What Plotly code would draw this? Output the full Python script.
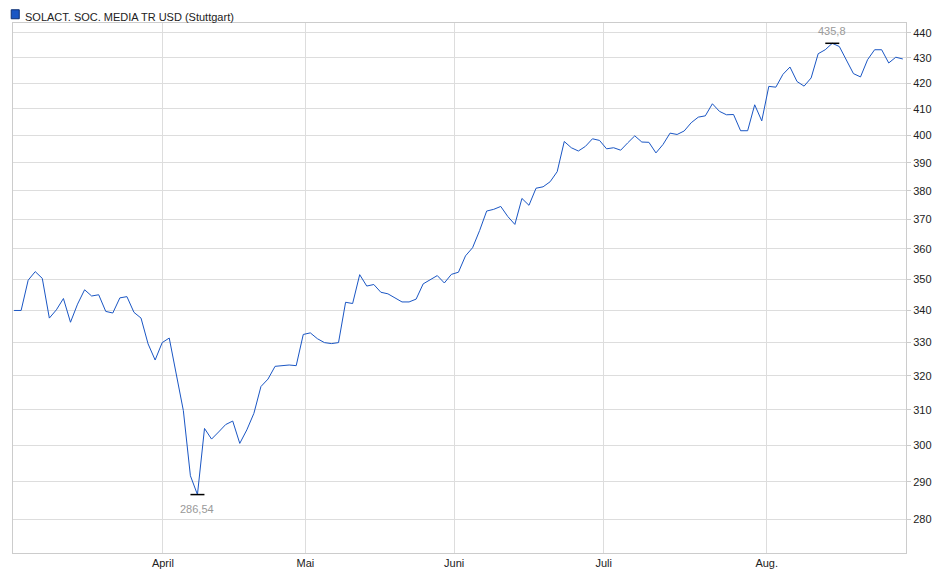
import plotly.graph_objects as go
import math

title = 'SOLACT. SOC. MEDIA TR USD (Stuttgart)'

# daily closes (trading days, evenly spaced)
values = [
    340, 340, 349.7, 352.5, 350.3, 337.6, 340.2, 343.8, 336.3, 342, 346.6, 344.6, 345,
    339.7, 339.2, 344, 344.4, 339.4, 337.6, 329.6, 324.7, 330, 331.4, 320.3, 309.8, 291.6,
    286.54, 304.7, 301.7, 303.7, 305.8, 306.8, 300.5, 304.3, 309, 316.8, 319, 322.8, 323,
    323.2, 323, 332.5, 333, 331.2, 330,
    329.7, 330, 342.6, 342.2, 351.5, 347.8, 348.3, 345.8, 345.3, 344, 342.7, 342.7, 343.6,
    348.5, 349.9, 351.2, 348.8, 351.6, 352.3, 357.7, 360.4, 366.2, 372.9, 373.5, 374.5, 371,
    368.3, 377.3, 374.9, 380.9, 381.4, 383.2, 386.8, 397.8, 395.5, 394.3, 396, 398.8, 398.2,
    395.1, 395.5,
    394.6, 397.3, 399.9, 397.6, 397.5, 393.6, 396.7, 400.9, 400.4, 401.7, 404.8, 406.9, 407.4,
    412, 409.1, 407.8, 407.9, 401.8, 401.8, 411.6, 405.5, 418.7, 418.4, 423.4, 426.3, 420.6,
    418.8, 422, 431.6, 433.2, 435.8, 434.5, 428.9, 423.7, 422.4, 429.2, 433.2, 433.2, 427.9,
    430.2, 429.5,
]
month_labels = ['April', 'Mai', 'Juni', 'Juli', 'Aug.']
month_pos = [21.1, 41.3, 62.4, 83.6, 106.7]
y_ticks = list(range(280, 441, 10))

idx = list(range(len(values)))
lo = values.index(min(values))
hi = values.index(max(values))

fig = go.Figure()
fig.add_trace(go.Scatter(x=idx, y=values, mode='lines',
                         line=dict(color='#1a56c4', width=1), hoverinfo='skip'))
fig.add_trace(go.Scatter(x=[lo, hi], y=[values[lo], values[hi]], mode='markers',
                         marker=dict(symbol='line-ew', size=10,
                                     line=dict(color='black', width=1.5)),
                         hoverinfo='skip'))

fig.add_annotation(x=lo, y=math.log10(values[lo]), text='286,54', showarrow=False,
                   yshift=-14, font=dict(color='#999999', size=11))
fig.add_annotation(x=hi, y=math.log10(values[hi]), text='435,8', showarrow=False,
                   yshift=12, font=dict(color='#999999', size=11))
fig.add_annotation(x=0, y=1, xref='paper', yref='paper', xanchor='left', yanchor='bottom',
                   text=title, showarrow=False, xshift=10, yshift=-2,
                   font=dict(color='#222222', size=11))
fig.add_shape(type='rect', xref='paper', yref='paper', x0=-0.002, x1=0.007,
              y0=1.008, y1=1.025, fillcolor='#1a56c4', line=dict(color='#0d2f73', width=1))

fig.update_layout(
    width=940, height=579, showlegend=False,
    margin=dict(l=5, r=42, t=15, b=34),
    paper_bgcolor='white', plot_bgcolor='white',
    font=dict(family='Liberation Sans, Arial', size=11, color='#222222'),
    xaxis=dict(range=[-0.15, len(values) - 0.55], tickvals=month_pos, ticktext=month_labels,
               showgrid=True, gridcolor='#dddddd', zeroline=False, showline=True,
               linecolor='#cccccc', mirror=True, ticks='', ticklen=0),
    yaxis=dict(type='log', side='right', range=[math.log10(271.4), math.log10(444.1)],
               tickvals=y_ticks, ticktext=[str(t) for t in y_ticks],
               showgrid=True, gridcolor='#dddddd', zeroline=False, showline=True,
               linecolor='#cccccc', mirror=True, ticks='outside', ticklen=4,
               tickcolor='#cccccc'),
)

fig.write_html('out.html')
